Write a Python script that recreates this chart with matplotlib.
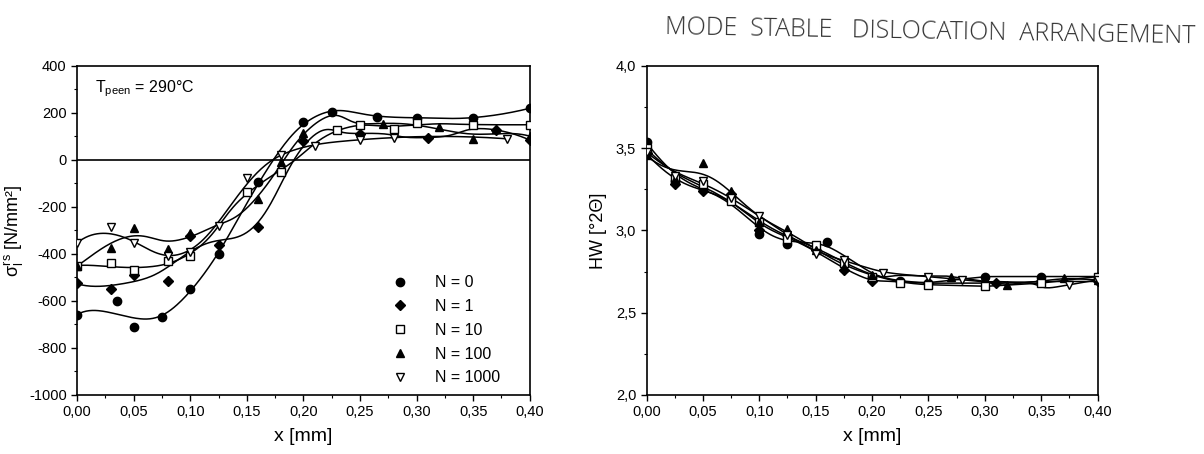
import numpy as np
import matplotlib
matplotlib.use("Agg")
import matplotlib.pyplot as plt
from matplotlib.ticker import MultipleLocator, FuncFormatter

plt.rcParams['font.family'] = ['Liberation Sans', 'DejaVu Sans']
plt.rcParams['mathtext.fontset'] = 'custom'
plt.rcParams['mathtext.rm'] = 'Liberation Sans'
plt.rcParams['mathtext.it'] = 'Liberation Sans'
plt.rcParams['axes.unicode_minus'] = False

# ---------------- Left panel: residual stress ----------------
labels = ["N = 0", "N = 1", "N = 10", "N = 100", "N = 1000"]
markers = ["o", "D", "s", "^", "v"]
filled = [True, True, False, True, False]

s_x0 = [0, 0.035, 0.05, 0.075, 0.10, 0.125, 0.16, 0.20, 0.225, 0.265, 0.30, 0.35, 0.40]
s_y0 = [-660, -600, -710, -670, -550, -400, -95, 160, 205, 183, 180, 180, 220]
s_x1 = [0, 0.03, 0.05, 0.08, 0.10, 0.125, 0.16, 0.20, 0.25, 0.31, 0.37, 0.40]
s_y1 = [-525, -550, -490, -515, -325, -360, -285, 80, 110, 95, 128, 85]
s_x10 = [0, 0.03, 0.05, 0.08, 0.10, 0.15, 0.18, 0.23, 0.25, 0.28, 0.30, 0.35, 0.40]
s_y10 = [-450, -440, -470, -430, -410, -135, -50, 128, 150, 132, 157, 150, 150]
s_x100 = [0, 0.03, 0.05, 0.08, 0.10, 0.16, 0.18, 0.20, 0.27, 0.32, 0.35, 0.37, 0.40]
s_y100 = [-450, -375, -290, -380, -310, -165, -10, 115, 155, 140, 90, 130, 100]
s_x1000 = [0, 0.03, 0.05, 0.08, 0.10, 0.125, 0.15, 0.18, 0.21, 0.25, 0.28, 0.38]
s_y1000 = [-355, -285, -355, -410, -390, -280, -75, 20, 60, 85, 95, 90]

# ---------------- Right panel: half width ----------------
h_x0 = [0, 0.025, 0.05, 0.075, 0.10, 0.125, 0.16, 0.20, 0.225, 0.25, 0.30, 0.35, 0.40]
h_y0 = [3.54, 3.30, 3.25, 3.20, 2.98, 2.92, 2.93, 2.72, 2.69, 2.68, 2.72, 2.72, 2.72]
h_x1 = [0, 0.025, 0.05, 0.075, 0.10, 0.125, 0.15, 0.175, 0.20, 0.25, 0.31, 0.35, 0.40]
h_y1 = [3.47, 3.28, 3.24, 3.22, 3.00, 2.97, 2.88, 2.76, 2.69, 2.68, 2.68, 2.69, 2.69]
h_x10 = [0, 0.025, 0.05, 0.075, 0.10, 0.125, 0.15, 0.175, 0.20, 0.225, 0.25, 0.30, 0.35, 0.40]
h_y10 = [3.50, 3.32, 3.28, 3.18, 3.05, 2.95, 2.91, 2.80, 2.72, 2.68, 2.67, 2.66, 2.68, 2.72]
h_x100 = [0, 0.025, 0.05, 0.075, 0.10, 0.125, 0.15, 0.175, 0.20, 0.27, 0.32, 0.37, 0.40]
h_y100 = [3.46, 3.31, 3.41, 3.24, 3.05, 3.01, 2.88, 2.78, 2.73, 2.72, 2.67, 2.71, 2.70]
h_x1000 = [0, 0.025, 0.05, 0.075, 0.10, 0.125, 0.15, 0.175, 0.21, 0.25, 0.28, 0.375, 0.40]
h_y1000 = [3.48, 3.33, 3.30, 3.20, 3.09, 2.97, 2.86, 2.82, 2.74, 2.72, 2.70, 2.67, 2.70]

stress = [(s_x0, s_y0), (s_x1, s_y1), (s_x10, s_y10), (s_x100, s_y100), (s_x1000, s_y1000)]
hw = [(h_x0, h_y0), (h_x1, h_y1), (h_x10, h_y10), (h_x100, h_y100), (h_x1000, h_y1000)]

fig = plt.figure(figsize=(12.04, 4.54), dpi=100)
axL = fig.add_axes([0.064, 0.130, 0.376, 0.7247])
axR = fig.add_axes([0.537, 0.130, 0.3746, 0.7247])

comma = lambda fmt: FuncFormatter(lambda v, p: (fmt % v).replace('.', ','))


def smooth_curve(x, y, bw, order, xmax):
    """Local polynomial (kernel-weighted) smoothing of the measured points."""
    x = np.asarray(x, float)
    y = np.asarray(y, float)
    xs = np.linspace(0, xmax, 300)
    out = []
    for xg in xs:
        w = np.exp(-0.5 * ((x - xg) / bw) ** 2)
        c = np.polyfit(x - xg, y, order, w=np.sqrt(w))
        out.append(c[-1])
    return xs, np.array(out)


for (x, y), m, f, lab in zip(stress, markers, filled, labels):
    xs, ys = smooth_curve(x, y, 0.028, 2, max(x))
    axL.plot(xs, ys, color='black', lw=1.1, zorder=2)
    axL.plot(x, y, linestyle='none', marker=m, ms=6 if m != 'D' else 5,
             mfc='black' if f else 'white', mec='black', mew=1.0, label=lab, zorder=3)

axL.axhline(0, color='black', lw=1.2, zorder=1)
axL.set_xlim(0, 0.40)
axL.set_ylim(-1000, 400)
axL.xaxis.set_major_locator(MultipleLocator(0.05))
axL.xaxis.set_minor_locator(MultipleLocator(0.025))
axL.yaxis.set_major_locator(MultipleLocator(200))
axL.yaxis.set_minor_locator(MultipleLocator(100))
axL.xaxis.set_major_formatter(comma('%.2f'))
axL.set_xlabel('x [mm]', fontsize=14, labelpad=6)
axL.set_ylabel(r'$\sigma_l^{rs}$ [N/mm²]', fontsize=13, labelpad=2)
axL.text(0.04, 0.93, r'T$_{\mathregular{peen}}$ = 290°C', transform=axL.transAxes,
         fontsize=11.5, va='center', ha='left')
leg = axL.legend(loc='lower right', frameon=False, fontsize=11.5, handletextpad=1.2,
                 labelspacing=0.55, bbox_to_anchor=(0.955, 0.0), borderaxespad=0.2)

for (x, y), m, f, lab in zip(hw, markers, filled, labels):
    xs, ys = smooth_curve(x, y, 0.02, 1, max(x))
    axR.plot(xs, ys, color='black', lw=1.1, zorder=2)
    axR.plot(x, y, linestyle='none', marker=m, ms=6 if m != 'D' else 5,
             mfc='black' if f else 'white', mec='black', mew=1.0, zorder=3)

axR.set_xlim(0, 0.40)
axR.set_ylim(2.0, 4.0)
axR.xaxis.set_major_locator(MultipleLocator(0.05))
axR.xaxis.set_minor_locator(MultipleLocator(0.025))
axR.yaxis.set_major_locator(MultipleLocator(0.5))
axR.yaxis.set_minor_locator(MultipleLocator(0.25))
axR.xaxis.set_major_formatter(comma('%.2f'))
axR.yaxis.set_major_formatter(comma('%.1f'))
axR.set_xlabel('x [mm]', fontsize=14, labelpad=6)
axR.set_ylabel('HW [°2Θ]', fontsize=13, labelpad=6)

for ax in (axL, axR):
    for s in ax.spines.values():
        s.set_linewidth(1.2)
    ax.tick_params(which='both', direction='out', top=False, right=False, labelsize=10.5)
    ax.tick_params(which='major', length=4, width=1)
    ax.tick_params(which='minor', length=2.5, width=0.8)

fig.text(0.993, 0.93, 'MODE  STABLE   DISLOCATION  ARRANGEMENT', fontsize=18,
         color='#333333', ha='right', va='center', rotation=-1.0,
         family=['Open Sans', 'DejaVu Sans'], fontweight='light')

fig.savefig('out.png', dpi=100)
